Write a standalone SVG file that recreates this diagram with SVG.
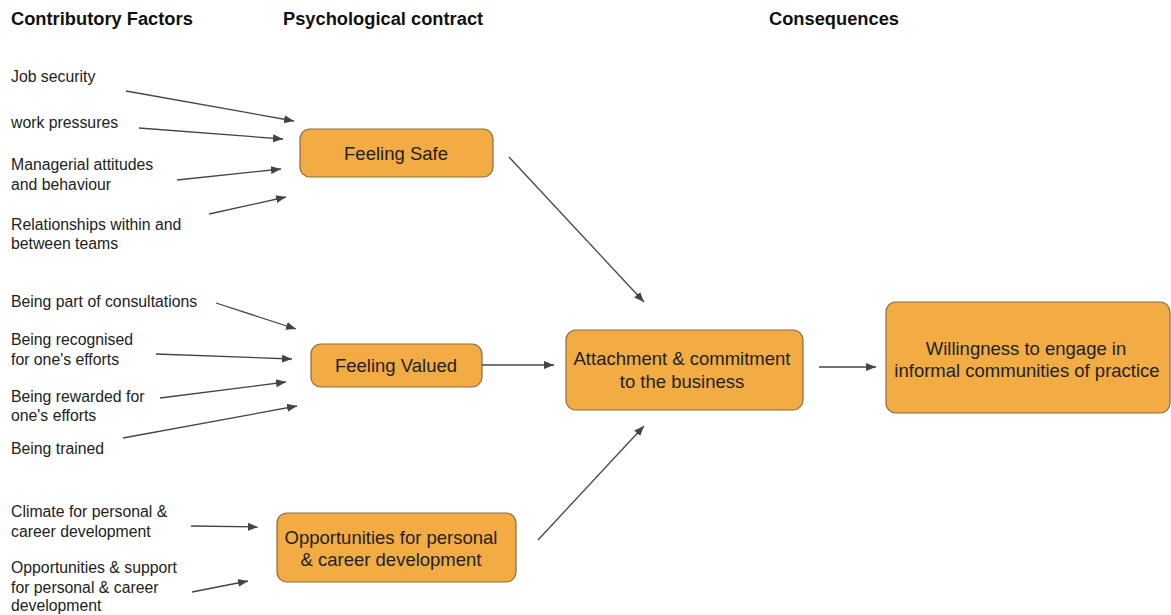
<svg xmlns="http://www.w3.org/2000/svg" width="1171" height="615" viewBox="0 0 1171 615">
<defs>
<marker id="ah" viewBox="0 0 10 10" refX="10" refY="5" markerWidth="10" markerHeight="10" markerUnits="userSpaceOnUse" orient="auto">
<path d="M0,1 L10,5 L0,9 Z" fill="#444"/>
</marker>
<style>
.h{font-family:"Liberation Sans",Arial,sans-serif;font-weight:bold;font-size:18.3px;fill:#111}
.l{font-family:"Liberation Sans",Arial,sans-serif;font-size:15.8px;fill:#222}
.n{font-family:"Liberation Sans",Arial,sans-serif;font-size:18.5px;fill:#222;text-anchor:middle}
.b{fill:#f2ac43;stroke:#8b6c43;stroke-width:1.2}
.c line{stroke:#444;stroke-width:1.3;marker-end:url(#ah)}
</style>
</defs>
<rect width="1171" height="615" fill="#fff"/>
<text class="h" x="11" y="25">Contributory Factors</text>
<text class="h" x="283" y="25">Psychological contract</text>
<text class="h" x="769" y="25">Consequences</text>
<g id="factors">
<text class="l" x="11" y="82">Job security</text>
<text class="l" x="11" y="128">work pressures</text>
<text class="l" x="11" y="170">Managerial attitudes</text>
<text class="l" x="11" y="190">and behaviour</text>
<text class="l" x="11" y="230">Relationships within and</text>
<text class="l" x="11" y="249">between teams</text>
<text class="l" x="11" y="307">Being part of consultations</text>
<text class="l" x="11" y="345">Being recognised</text>
<text class="l" x="11" y="365">for one's efforts</text>
<text class="l" x="11" y="402">Being rewarded for</text>
<text class="l" x="11" y="421">one's efforts</text>
<text class="l" x="11" y="454">Being trained</text>
<text class="l" x="11" y="517">Climate for personal &amp;</text>
<text class="l" x="11" y="537">career development</text>
<text class="l" x="11" y="573">Opportunities &amp; support</text>
<text class="l" x="11" y="593">for personal &amp; career</text>
<text class="l" x="11" y="611">development</text>
</g>
<g id="node-safe">
<rect class="b" x="300" y="129" width="193" height="48" rx="10"/>
<text class="n" x="396" y="160">Feeling Safe</text>
</g>
<g id="node-valued">
<rect class="b" x="311" y="344" width="171" height="43" rx="10"/>
<text class="n" x="396" y="372">Feeling Valued</text>
</g>
<g id="node-opps">
<rect class="b" x="277" y="513" width="239" height="69" rx="10"/>
<text class="n" x="391" y="544">Opportunities for personal</text>
<text class="n" x="391" y="566">&amp; career development</text>
</g>
<g id="node-attach">
<rect class="b" x="566" y="330" width="237" height="80" rx="10"/>
<text class="n" x="682" y="365">Attachment &amp; commitment</text>
<text class="n" x="682" y="388">to the business</text>
</g>
<g id="node-willing">
<rect class="b" x="886" y="302" width="284" height="111" rx="10"/>
<text class="n" x="1026" y="355">Willingness to engage in</text>
<text class="n" x="1027" y="377">informal communities of practice</text>
</g>
<g class="c" id="connectors">
<line x1="126" y1="91" x2="294" y2="121"/>
<line x1="139" y1="128" x2="283" y2="139"/>
<line x1="177" y1="180" x2="281" y2="169"/>
<line x1="209" y1="214" x2="286" y2="197"/>
<line x1="216" y1="303" x2="296" y2="329"/>
<line x1="156" y1="354" x2="292" y2="359"/>
<line x1="160" y1="398" x2="286" y2="382"/>
<line x1="123" y1="438" x2="297" y2="406"/>
<line x1="191" y1="526" x2="258" y2="527"/>
<line x1="192" y1="592" x2="248" y2="581"/>
<line x1="509" y1="157" x2="644" y2="302"/>
<line x1="482" y1="365" x2="554" y2="365"/>
<line x1="538" y1="540" x2="644" y2="426"/>
<line x1="819" y1="367" x2="876" y2="367"/>
</g>
</svg>
